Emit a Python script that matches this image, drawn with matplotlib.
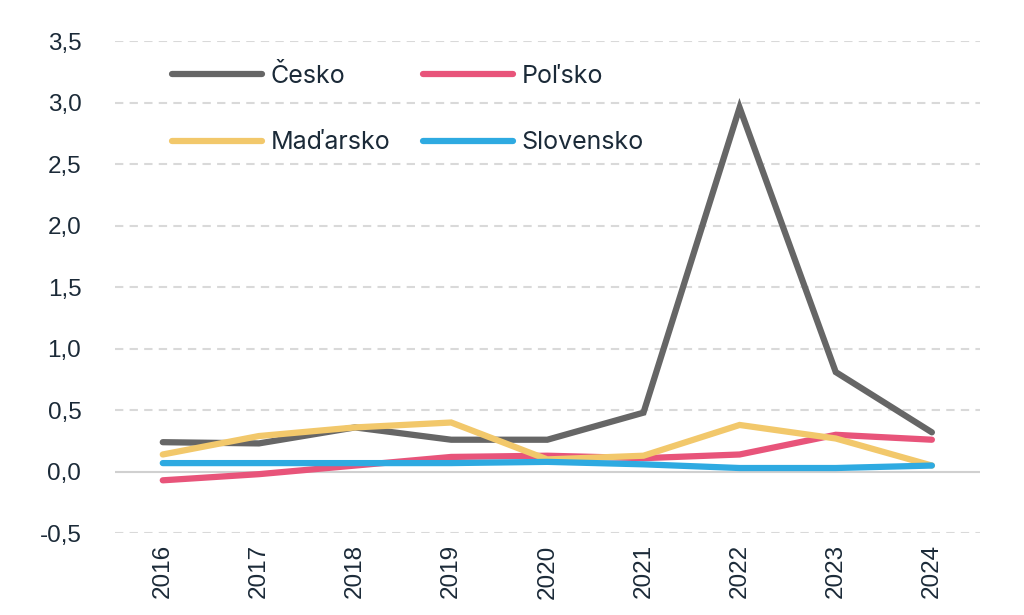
import numpy as np
import matplotlib.pyplot as plt
from matplotlib.ticker import FuncFormatter

years = ["2016", "2017", "2018", "2019", "2020", "2021", "2022", "2023", "2024"]
cesko = [0.24, 0.23, 0.36, 0.26, 0.26, 0.48, 2.96, 0.81, 0.32]
polsko = [-0.07, -0.02, 0.05, 0.12, 0.13, 0.11, 0.14, 0.30, 0.26]
madarsko = [0.14, 0.29, 0.36, 0.40, 0.10, 0.13, 0.38, 0.27, 0.05]
slovensko = [0.07, 0.07, 0.07, 0.07, 0.08, 0.06, 0.03, 0.03, 0.05]

text_color = "#1B2A38"
x = np.arange(len(years))

fig = plt.figure(figsize=(10.24, 6.15), dpi=100)
ax = fig.add_axes([0.112, 0.133, 0.845, 0.80])

series = [
    ("Česko", cesko, "#666666"),
    ("Poľsko", polsko, "#E8547A"),
    ("Maďarsko", madarsko, "#F2C86B"),
    ("Slovensko", slovensko, "#2EAAE1"),
]
lines = {}
for name, vals, col in series:
    lines[name], = ax.plot(x, vals, color=col, lw=4.5, solid_capstyle="round",
                           solid_joinstyle="miter", label=name, zorder=3)

ax.set_xlim(-0.5, 8.5)
ax.set_ylim(-0.5, 3.5)
ax.set_yticks(np.arange(-0.5, 3.51, 0.5))
ax.yaxis.set_major_formatter(FuncFormatter(lambda v, p: f"{v:.1f}".replace(".", ",")))
ax.set_xticks(x)
ax.set_xticklabels(years, rotation=90)

# dashed grid, solid zero line
for v in np.arange(-0.5, 3.51, 0.5):
    if abs(v) < 1e-9:
        ax.axhline(0, color="#D0D0D0", lw=1.5, zorder=1)
    else:
        ax.axhline(v, color="#D9D9D9", lw=1.5, ls=(0, (4, 3)), zorder=1)

for s in ax.spines.values():
    s.set_visible(False)
ax.tick_params(length=0, labelsize=17.5, colors=text_color, pad=8)
ax.tick_params(axis="y", pad=24)
for lab in ax.get_xticklabels() + ax.get_yticklabels():
    lab.set_family("Liberation Sans")

# matplotlib fills legend columns first, so reorder to get row-wise layout
order = ["Česko", "Maďarsko", "Poľsko", "Slovensko"]
leg = ax.legend([lines[n] for n in order], order,
                loc="upper left", bbox_to_anchor=(0.04, 1.0), ncol=2,
                frameon=False, handlelength=3.6, handletextpad=0.35,
                columnspacing=1.3, labelspacing=1.75,
                prop={"family": "Inter", "size": 18})
for t in leg.get_texts():
    t.set_color(text_color)

fig.savefig("out.png", dpi=100)
